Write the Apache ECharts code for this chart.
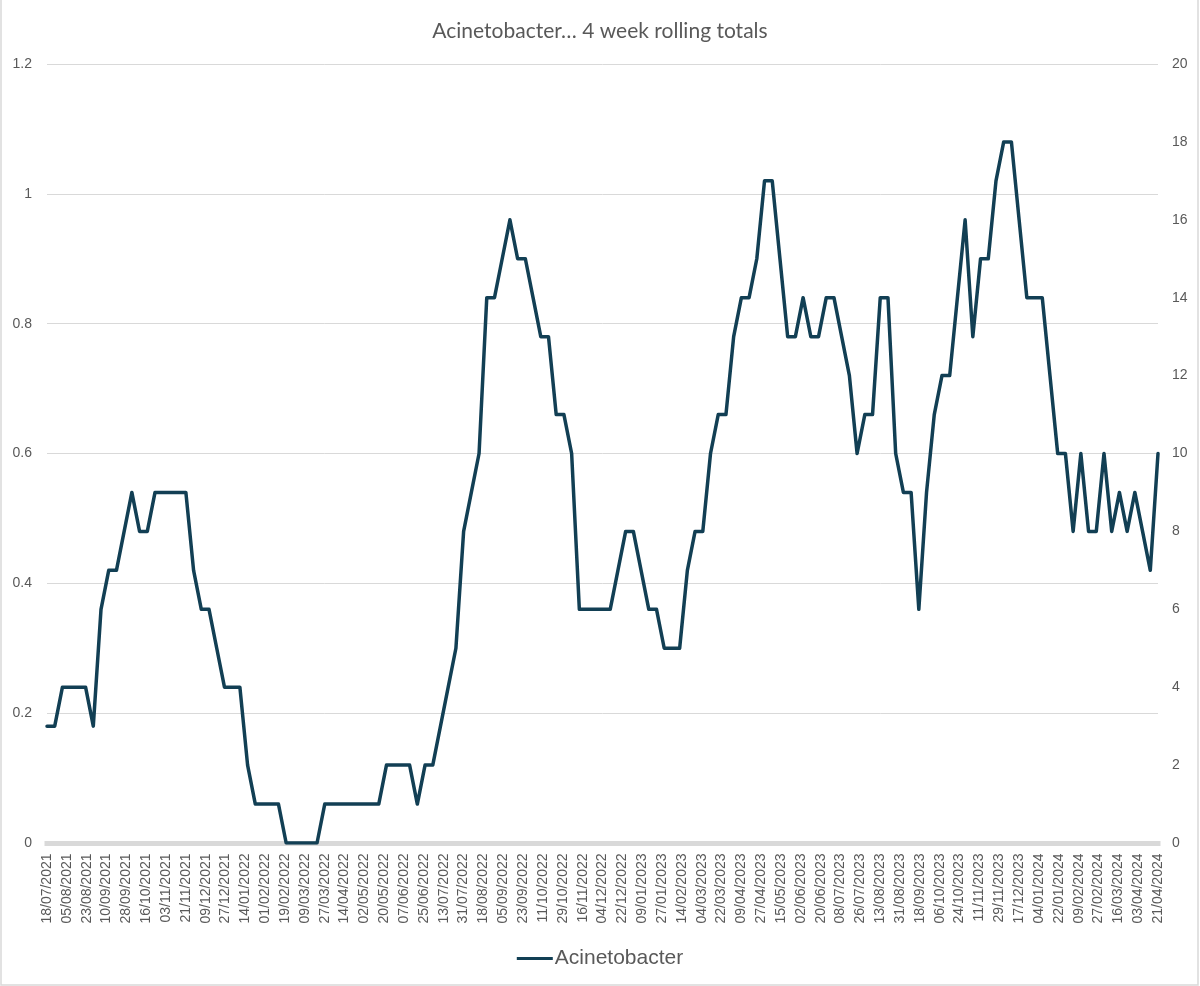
<!DOCTYPE html>
<html>
<head>
<meta charset="utf-8">
<script src="https://cdn.jsdelivr.net/npm/echarts@6/dist/echarts.min.js"></script>
<style>
html,body{margin:0;padding:0;background:#fff;}
#chart{width:1200px;height:986px;}
</style>
</head>
<body>
<div id="chart"></div>
<script>
// Weekly 4-week rolling totals, first week ending 18/07/2021, one value per week
const seriesName = 'Acinetobacter';
const firstWeek = '2021-07-18';
const counts = [
  3,3,4,4,4,4,3,6,7,7,
  8,9,8,8,9,9,9,9,9,7,
  6,6,5,4,4,4,2,1,1,1,
  1,0,0,0,0,0,1,1,1,1,
  1,1,1,1,2,2,2,2,1,2,
  2,3,4,5,8,9,10,14,14,15,
  16,15,15,14,13,13,11,11,10,6,
  6,6,6,6,7,8,8,7,6,6,
  5,5,5,7,8,8,10,11,11,13,
  14,14,15,17,17,15,13,13,14,13,
  13,14,14,13,12,10,11,11,14,14,
  10,9,9,6,9,11,12,12,14,16,
  13,15,15,17,18,18,16,14,14,14,
  12,10,10,8,10,8,8,10,8,9,
  8,9,8,7,10
];
// Date-axis tick labels (every 18 days)
const tickLabels = [
  '18/07/2021','05/08/2021','23/08/2021','10/09/2021','28/09/2021','16/10/2021','03/11/2021','21/11/2021',
  '09/12/2021','27/12/2021','14/01/2022','01/02/2022','19/02/2022','09/03/2022','27/03/2022','14/04/2022',
  '02/05/2022','20/05/2022','07/06/2022','25/06/2022','13/07/2022','31/07/2022','18/08/2022','05/09/2022',
  '23/09/2022','11/10/2022','29/10/2022','16/11/2022','04/12/2022','22/12/2022','09/01/2023','27/01/2023',
  '14/02/2023','04/03/2023','22/03/2023','09/04/2023','27/04/2023','15/05/2023','02/06/2023','20/06/2023',
  '08/07/2023','26/07/2023','13/08/2023','31/08/2023','18/09/2023','06/10/2023','24/10/2023','11/11/2023',
  '29/11/2023','17/12/2023','04/01/2024','22/01/2024','09/02/2024','27/02/2024','16/03/2024','03/04/2024',
  '21/04/2024'
];
const leftTicks = [0, 0.2, 0.4, 0.6, 0.8, 1, 1.2];
const rightTicks = [0, 2, 4, 6, 8, 10, 12, 14, 16, 18, 20];
const titleText = 'Acinetobacter\u2026 4 week rolling totals';

const tickStepDays = 18;
const daysPerWeek = 7;
// each weekly value placed at its day offset from the first week
const lineData = counts.map((v, i) => [i * daysPerWeek, v]);

const textColor = '#595959';
const gridColor = '#d9d9d9';
const lineColor = '#123f54';

const chart = echarts.init(document.getElementById('chart'), null, {renderer: 'canvas'});
chart.setOption({
  animation: false,
  backgroundColor: '#ffffff',
  title: {
    text: titleText,
    left: 'center',
    top: 16,
    textStyle: {
      fontFamily: 'Lato',
      fontSize: 21,
      fontWeight: 'normal',
      color: textColor
    }
  },
  legend: {
    data: [seriesName],
    left: 'center',
    top: 943,
    itemWidth: 36,
    itemHeight: 14,
    icon: 'path://M0,6 L36,6 L36,9 L0,9 Z',
    textStyle: {
      fontFamily: 'Liberation Sans',
      fontSize: 21,
      color: textColor,
      padding: [0, 0, 0, -3]
    }
  },
  grid: {
    left: 47,
    right: 42,
    top: 64,
    bottom: 143,
    containLabel: false
  },
  xAxis: {
    type: 'value',
    min: 0,
    max: (tickLabels.length - 1) * tickStepDays,
    interval: tickStepDays,
    offset: 2.5,
    axisLine: {show: true, lineStyle: {color: gridColor, width: 5, cap: 'square'}},
    axisTick: {show: false},
    splitLine: {show: false},
    axisLabel: {
      rotate: 90,
      margin: 8,
      fontFamily: 'Liberation Sans',
      fontSize: 14,
      color: textColor,
      showMinLabel: true,
      showMaxLabel: true,
      hideOverlap: false,
      formatter: function (v) { return tickLabels[Math.round(v / tickStepDays)] || ''; }
    }
  },
  yAxis: [
    {
      type: 'value',
      position: 'left',
      min: leftTicks[0],
      max: leftTicks[leftTicks.length - 1],
      interval: leftTicks[1] - leftTicks[0],
      axisLine: {show: false},
      axisTick: {show: false},
      splitLine: {show: true, lineStyle: {color: gridColor, width: 1}},
      axisLabel: {
        margin: 15,
        fontFamily: 'Liberation Sans',
        fontSize: 14,
        color: textColor
      }
    },
    {
      type: 'value',
      position: 'right',
      min: rightTicks[0],
      max: rightTicks[rightTicks.length - 1],
      interval: rightTicks[1] - rightTicks[0],
      axisLine: {show: false},
      axisTick: {show: false},
      splitLine: {show: false},
      axisLabel: {
        margin: 14,
        fontFamily: 'Liberation Sans',
        fontSize: 14,
        color: textColor
      }
    }
  ],
  series: [
    {
      name: seriesName,
      type: 'line',
      yAxisIndex: 1,
      data: lineData,
      symbol: 'none',
      showSymbol: false,
      smooth: false,
      itemStyle: {color: lineColor},
      lineStyle: {color: lineColor, width: 3.5, join: 'round', cap: 'round'}
    }
  ],
  graphic: [
    {
      type: 'rect',
      silent: true,
      shape: {x: 1, y: -1, width: 1197, height: 986},
      style: {fill: 'none', stroke: gridColor, lineWidth: 1.5}
    }
  ]
});
</script>
</body>
</html>
